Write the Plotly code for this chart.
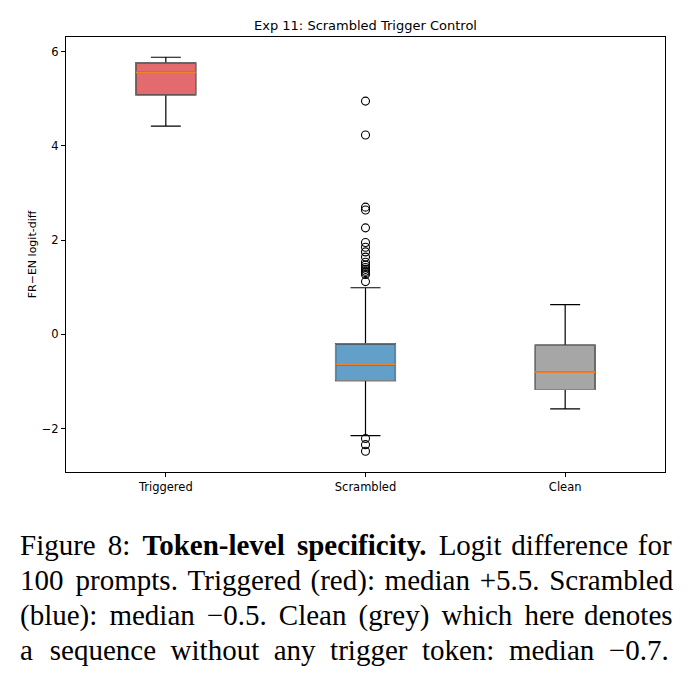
import plotly.graph_objects as go

categories = ["Triggered", "Scrambled", "Clean"]
positions = [1, 2, 3]
q1 = [5.08, -0.98, -1.17]
medians = [5.56, -0.64, -0.80]
q3 = [5.76, -0.20, -0.23]
lower_whisker = [4.42, -2.15, -1.58]
upper_whisker = [5.88, 0.99, 0.63]
outliers = [
    [],
    [4.95, 4.23, 2.70, 2.64, 2.26, 1.95, 1.85, 1.75, 1.64, 1.53, 1.47, 1.42,
     1.38, 1.34, 1.31, 1.27, 1.12, -2.21, -2.34, -2.48],
    [],
]
fill_colors = ["#e36a6d", "#62a0ca", "#a6a6a6"]
box_width = 0.3

caption_lines = [
    "Figure 8: <b>Token-level specificity.</b> Logit difference for",
    "100 prompts. Triggered (red): median +5.5. Scrambled",
    "(blue): median −0.5. Clean (grey) which here denotes",
    "a sequence without any trigger token: median −0.7.",
]
# number of hair spaces spread over the word gaps of each line (justification)
caption_hair_spaces = [10, 7, 13, 22]

W, H = 688, 685
L, R, T, B = 66, 23, 37, 213
pw, ph = W - L - R, H - T - B


def px_x(px):
    return (px - L) / pw


def px_y(py):
    return (H - B - py) / ph


def justify(text, n_hair):
    words = text.split(" ")
    gaps = len(words) - 1
    out = words[0]
    for k in range(gaps):
        cnt = n_hair // gaps + (1 if k < n_hair % gaps else 0)
        w = words[k + 1]
        if w.startswith("<b>"):
            out += " <b>" + "\u200a" * cnt + w[3:]
        else:
            out += " " + "\u200a" * cnt + w
    return out


fig = go.Figure()

for i, cat in enumerate(categories):
    fig.add_trace(go.Box(
        x=[positions[i]], q1=[q1[i]], median=[medians[i]], q3=[q3[i]],
        lowerfence=[lower_whisker[i]], upperfence=[upper_whisker[i]],
        width=box_width, whiskerwidth=0.5, fillcolor=fill_colors[i],
        line=dict(color="black", width=1.2), boxpoints=False,
        showlegend=False, hoverinfo="skip", name=cat,
    ))
    fig.add_trace(go.Box(
        x=[positions[i]], q1=[q1[i]], median=[medians[i]], q3=[q3[i]],
        lowerfence=[q1[i]], upperfence=[q3[i]],
        width=box_width, whiskerwidth=0, fillcolor="rgba(0,0,0,0)",
        line=dict(color="#8a8a8a", width=1), boxpoints=False,
        showlegend=False, hoverinfo="skip", name=cat,
    ))
    fig.add_trace(go.Scatter(
        x=[positions[i] - box_width / 2, positions[i] + box_width / 2],
        y=[medians[i], medians[i]], mode="lines",
        line=dict(color="#f0812a", width=1.6),
        showlegend=False, hoverinfo="skip",
    ))
    if outliers[i]:
        fig.add_trace(go.Scatter(
            x=[positions[i]] * len(outliers[i]), y=outliers[i], mode="markers",
            marker=dict(symbol="circle-open", size=8, color="black",
                        line=dict(width=1.1, color="black")),
            showlegend=False, hoverinfo="skip",
        ))

fig.update_layout(
    width=W, height=H,
    margin=dict(l=L, r=R, t=T, b=B),
    paper_bgcolor="white", plot_bgcolor="white",
    font=dict(family="DejaVu Sans", size=11.5, color="black"),
    boxmode="overlay",
    title=dict(text="Exp 11: Scrambled Trigger Control",
               x=px_x(365.5), xref="paper", xanchor="center",
               y=1 - 25 / H, yanchor="middle",
               font=dict(family="DejaVu Sans", size=13, color="black")),
    xaxis=dict(range=[0.5, 3.5], tickmode="array", tickvals=positions,
               ticktext=categories, showline=True, linecolor="black",
               linewidth=1, mirror=True, ticks="outside", ticklen=4,
               tickcolor="black", showgrid=False, zeroline=False),
    yaxis=dict(range=[-2.92, 6.31], tickmode="array",
               tickvals=[-2, 0, 2, 4, 6], ticktext=["−2", "0", "2", "4", "6"],
               showline=True, linecolor="black", linewidth=1, mirror=True,
               ticks="outside", ticklen=4, tickcolor="black",
               showgrid=False, zeroline=False,
               title=dict(text="FR−EN logit-diff", standoff=2,
                          font=dict(size=11))),
)

line_centers = [545, 580, 615, 650]
for txt, nh, yc in zip(caption_lines, caption_hair_spaces, line_centers):
    fig.add_annotation(
        text=justify(txt, nh),
        xref="paper", yref="paper", x=px_x(18), y=px_y(yc),
        xanchor="left", yanchor="middle", showarrow=False,
        font=dict(family="Liberation Serif", size=29, color="black"),
    )

fig.write_html("out.html")
